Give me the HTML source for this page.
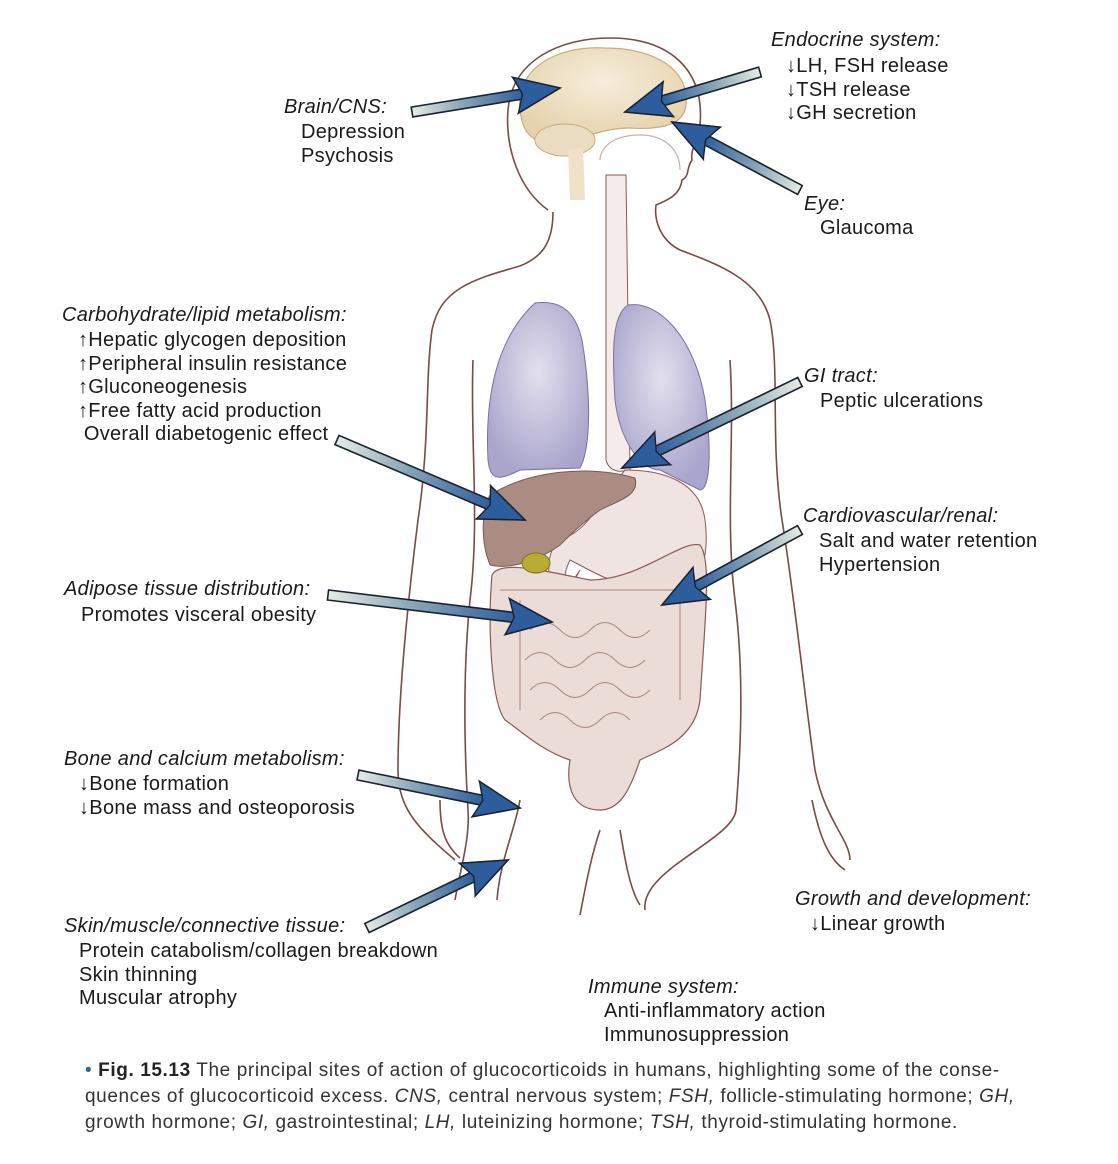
<!DOCTYPE html>
<html><head><meta charset="utf-8">
<style>
html,body{margin:0;padding:0;background:#fff;}
#w{position:relative;width:1118px;height:1164px;overflow:hidden;font-family:"Liberation Sans",Arial,sans-serif;color:#1a1a1a;}
.t{position:absolute;font-size:20px;letter-spacing:0.3px;line-height:23.5px;white-space:nowrap;}
.t i{font-style:italic;}
.cap{position:absolute;left:85px;top:1058px;font-size:19px;letter-spacing:0.6px;line-height:26px;color:#333;white-space:nowrap;}
svg{position:absolute;left:0;top:0;}
</style></head><body><div id="w">
<svg id="s" width="1118" height="1164" viewBox="0 0 1118 1164">
<defs>
<radialGradient id="br" cx="0.5" cy="0.35" r="0.6"><stop offset="0" stop-color="#f6eddc"/><stop offset="1" stop-color="#e6d3ad"/></radialGradient>
<radialGradient id="lu" cx="0.5" cy="0.4" r="0.6"><stop offset="0" stop-color="#e2e0ee"/><stop offset="1" stop-color="#aaa5cc"/></radialGradient>
</defs>
<g fill="none" stroke="#7a4a45" stroke-width="1.6">
<path d="M548,210 C520,190 505,150 508,110 C512,60 560,38 610,38 C670,38 705,70 700,125 C698,140 690,150 692,160 C686,168 690,176 682,180 C680,195 668,200 656,205 C654,220 660,240 680,250 C720,265 760,280 770,320 C780,370 770,440 782,520 C795,600 805,700 815,770 C825,820 850,840 850,860"/>
<path d="M553,212 C553,245 540,258 520,266 C470,280 440,290 432,330 C425,380 430,440 418,520 C408,600 398,700 398,770 C398,810 420,830 455,860"/>
<path d="M473,360 C470,440 480,520 470,600 C462,680 465,760 468,810 C470,840 460,870 455,900"/>
<path d="M730,360 C735,440 725,520 735,600 C745,680 740,760 736,810 C733,840 640,870 645,910"/>
<path d="M520,800 C515,830 500,860 497,900"/>
<path d="M600,830 C590,860 585,890 580,915"/>
<path d="M620,830 C625,860 630,890 640,905"/>
<path d="M812,800 C820,840 830,860 845,870"/>
<path d="M440,800 C440,830 445,845 460,858"/>
</g>
<path d="M600,160 C600,150 610,135 640,135 C665,135 680,150 680,170" fill="none" stroke="#c9b1ab" stroke-width="1.2"/>
<path d="M606,175 L606,460 Q610,475 630,470 L626,175 Z" fill="#f4ecea" stroke="#8a5a55" stroke-width="1"/>
<path d="M520,110 C515,70 555,45 605,48 C655,48 690,70 686,105 C684,125 660,130 630,128 C600,128 580,140 560,145 C530,145 522,130 520,110 Z" fill="url(#br)" stroke="#c8ad80" stroke-width="1.2"/>
<ellipse cx="565" cy="140" rx="30" ry="16" fill="#eadcc0" stroke="#c8ad80"/>
<path d="M568,150 L570,200 L585,200 L583,148" fill="#efe2c8"/>
<path d="M535,303 C560,300 575,310 582,340 C592,400 590,450 580,468 L520,470 C500,480 490,482 488,460 C485,400 495,340 535,303 Z" fill="url(#lu)" stroke="#7c709b" stroke-width="1"/>
<path d="M628,305 C660,300 695,340 705,400 C712,450 710,490 700,490 L660,470 C640,470 620,440 615,400 C612,350 612,315 628,305 Z" fill="url(#lu)" stroke="#7c709b" stroke-width="1"/>
<path d="M625,470 C660,470 700,480 705,520 C710,560 700,595 660,590 C620,590 590,570 570,560 C560,580 565,600 580,570 L560,600 C545,585 545,550 560,540 C590,530 600,500 625,470 Z" fill="#efe4e1" stroke="#8a5a55" stroke-width="1"/>
<path d="M492,575 C500,560 540,570 590,580 C640,580 680,540 700,545 C712,560 705,620 700,700 C695,740 660,750 640,760 C630,790 620,810 600,810 C575,810 565,790 570,760 C540,750 520,730 505,720 C490,700 488,620 492,575 Z" fill="#ecdcd8" stroke="#8a5a55" stroke-width="1.2"/>
<g fill="none" stroke="#a98580" stroke-width="1">
<path d="M530,630 q15,-15 30,0 q15,15 30,0 q15,-15 30,0 q15,15 30,0"/>
<path d="M525,660 q15,-15 30,0 q15,15 30,0 q15,-15 30,0 q15,15 30,0"/>
<path d="M530,690 q15,-15 30,0 q15,15 30,0 q15,-15 30,0 q15,15 30,0"/>
<path d="M540,720 q15,-15 30,0 q15,15 30,0 q15,-15 30,0"/>
<path d="M520,600 L520,710 M680,600 L680,700 M500,590 L690,590"/>
</g>
<path d="M490,495 C530,470 590,465 635,478 C640,495 620,500 600,510 C580,525 570,535 560,545 C540,560 510,570 490,565 C480,540 482,510 490,495 Z" fill="#ab8c82" stroke="#7a5a52" stroke-width="1"/>
<ellipse cx="536" cy="563" rx="14" ry="10" fill="#b7ad35" stroke="#7c7420"/>
<g id="arr"></g>
</svg>

<div class="t" style="left:771px;top:29px"><i>Endocrine system:</i></div>
<div class="t" style="left:786px;top:55px">↓LH, FSH release<br>↓TSH release<br>↓GH secretion</div>
<div class="t" style="left:284px;top:96px"><i>Brain/CNS:</i></div>
<div class="t" style="left:301px;top:121px">Depression<br>Psychosis</div>
<div class="t" style="left:804px;top:193px"><i>Eye:</i></div>
<div class="t" style="left:820px;top:217px">Glaucoma</div>
<div class="t" style="left:62px;top:304px"><i>Carbohydrate/lipid metabolism:</i></div>
<div class="t" style="left:78px;top:329px">↑Hepatic glycogen deposition<br>↑Peripheral insulin resistance<br>↑Gluconeogenesis<br>↑Free fatty acid production<br>&nbsp;Overall diabetogenic effect</div>
<div class="t" style="left:804px;top:365px"><i>GI tract:</i></div>
<div class="t" style="left:820px;top:390px">Peptic ulcerations</div>
<div class="t" style="left:803px;top:505px"><i>Cardiovascular/renal:</i></div>
<div class="t" style="left:819px;top:530px">Salt and water retention<br>Hypertension</div>
<div class="t" style="left:64px;top:578px"><i>Adipose tissue distribution:</i></div>
<div class="t" style="left:81px;top:604px">Promotes visceral obesity</div>
<div class="t" style="left:64px;top:748px"><i>Bone and calcium metabolism:</i></div>
<div class="t" style="left:79px;top:773px">↓Bone formation<br>↓Bone mass and osteoporosis</div>
<div class="t" style="left:795px;top:888px"><i>Growth and development:</i></div>
<div class="t" style="left:810px;top:913px">↓Linear growth</div>
<div class="t" style="left:64px;top:915px"><i>Skin/muscle/connective tissue:</i></div>
<div class="t" style="left:79px;top:940px">Protein catabolism/collagen breakdown<br>Skin thinning<br>Muscular atrophy</div>
<div class="t" style="left:588px;top:976px"><i>Immune system:</i></div>
<div class="t" style="left:604px;top:1000px">Anti-inflammatory action<br>Immunosuppression</div>
<div class="cap"><span style="color:#1f6f8f">•</span> <b style="color:#222">Fig. 15.13</b> The principal sites of action of glucocorticoids in humans, highlighting some of the conse-<br>quences of glucocorticoid excess. <i>CNS,</i> central nervous system; <i>FSH,</i> follicle-stimulating hormone; <i>GH,</i><br>growth hormone; <i>GI,</i> gastrointestinal; <i>LH,</i> luteinizing hormone; <i>TSH,</i> thyroid-stimulating hormone.</div>
</div>
<script>
var A=[[412,112,560,88],[760,72,625,112],[800,190,672,122],[337,440,525,520],[800,382,622,468],[800,530,662,605],[328,595,552,622],[358,775,520,808],[367,928,508,860]];
var g=document.getElementById('arr'),defs=document.querySelector('defs'),h='',d='';
A.forEach(function(a,i){
 var x1=a[0],y1=a[1],x2=a[2],y2=a[3],dx=x2-x1,dy=y2-y1,L=Math.hypot(dx,dy),ux=dx/L,uy=dy/L,nx=-uy,ny=ux;
 var w=5,hl=38,hw=18;
 var bx=x2-ux*hl,by=y2-uy*hl;
 var p=[[x1+nx*w,y1+ny*w],[bx+nx*w,by+ny*w],[bx+nx*hw-ux*7,by+ny*hw-uy*7],[x2,y2],[bx-nx*hw-ux*7,by-ny*hw-uy*7],[bx-nx*w,by-ny*w],[x1-nx*w,y1-ny*w]];
 var f=function(q){return q[0].toFixed(1)+','+q[1].toFixed(1)};
 d+='<linearGradient id="g'+i+'" gradientUnits="userSpaceOnUse" x1="'+x1+'" y1="'+y1+'" x2="'+bx+'" y2="'+by+'"><stop offset="0" stop-color="#e4ebe6"/><stop offset="0.45" stop-color="#8aa6b6"/><stop offset="1" stop-color="#2f5f9c"/></linearGradient>';
 h+='<polygon points="'+p.map(f).join(' ')+'" fill="url(#g'+i+')" stroke="#1a2230" stroke-width="1.6"/>';
 h+='<polygon points="'+[p[2],p[3],p[4],[bx,by]].map(f).join(' ')+'" fill="#2d5d9d" stroke="#1a2230" stroke-width="1.4"/>';
});
defs.insertAdjacentHTML('beforeend',d);
g.innerHTML=h;
</script>
</body></html>
